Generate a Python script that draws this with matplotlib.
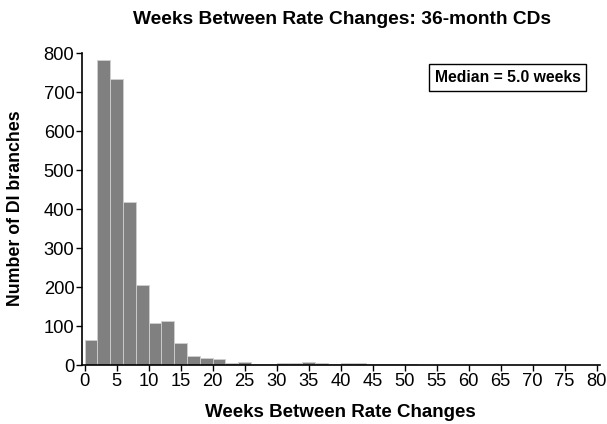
import matplotlib
matplotlib.use("Agg")
import matplotlib.pyplot as plt
import numpy as np

plt.rcParams["font.family"] = ["Liberation Sans", "DejaVu Sans"]

# histogram of weeks between rate changes, 2-week bins starting at 0
bin_edges = np.arange(0, 82, 2)
counts = [
    64, 782, 734, 417, 204, 108, 112, 56, 22, 17,      # 0-20
    15, 5, 9, 4, 3, 6, 6, 9, 5, 3,                      # 20-40
    5, 6, 4, 4, 3, 3, 0, 0, 1, 0,                       # 40-60
    0, 0, 1, 1, 0, 0, 0, 0, 0, 0,                       # 60-80
]
median_weeks = 5.0
x_ticks = list(range(0, 85, 5))
y_ticks = list(range(0, 900, 100))

fig = plt.figure(figsize=(6.07, 4.24), dpi=100)
ax = fig.add_axes([0.135, 0.139, 0.853, 0.736])

ax.bar(bin_edges[:-1], counts, width=2, align="edge",
       color="#808080", edgecolor="#d0d0d0", linewidth=0.6)

ax.set_xlim(-0.4, 80.5)
ax.set_ylim(0, 800)
ax.set_xticks(x_ticks)
ax.set_yticks(y_ticks)
ax.tick_params(direction="out", length=4, width=1, labelsize=13.2, pad=1.5)

for side in ("top", "right"):
    ax.spines[side].set_visible(False)
for side in ("left", "bottom"):
    ax.spines[side].set_linewidth(1.2)

fig.text(0.564, 0.955, "Weeks Between Rate Changes: 36-month CDs",
         ha="center", va="center", fontsize=13.8, fontweight="bold")
fig.text(0.56, 0.028, "Weeks Between Rate Changes",
         ha="center", va="center", fontsize=13.5, fontweight="bold")
fig.text(0.025, 0.51, "Number of DI branches", rotation=90,
         ha="center", va="center", fontsize=12.8, fontweight="bold")

ax.text(0.822, 0.922, f"Median = {median_weeks:.1f} weeks",
        transform=ax.transAxes, ha="center", va="center",
        fontsize=11.3, fontweight="bold",
        bbox=dict(boxstyle="square,pad=0.38", facecolor="white",
                  edgecolor="black", linewidth=1))

fig.savefig("out.png", dpi=100)
